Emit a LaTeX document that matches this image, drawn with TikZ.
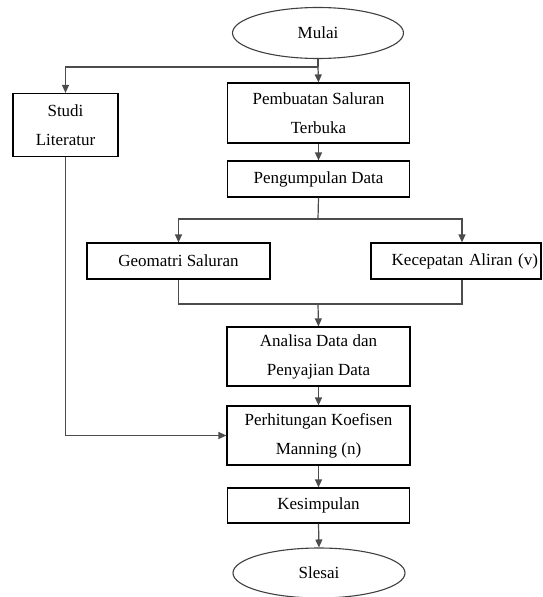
\documentclass[tikz,border=0pt]{standalone}
\usepackage{fontspec}
\setmainfont{Liberation Serif}
\usetikzlibrary{arrows.meta,shapes.geometric,calc}
\begin{document}
\begin{tikzpicture}[x=1pt,y=-1pt,
  box/.style={draw=black,line width=1.2pt,rectangle,align=center,inner sep=0pt,
    font=\fontsize{17}{29}\selectfont},
  oval/.style={draw=black!75,line width=1.1pt,ellipse,inner sep=0pt,
    font=\fontsize{17}{29}\selectfont},
  con/.style={draw=black!70,line width=1.2pt},
  arr/.style={con,-{Triangle[length=8pt,width=7pt]}}]
\useasboundingbox (0,0) rectangle (542,597);
\node[oval,minimum width=171,minimum height=51] (mulai) at (318,33) {Mulai};
\node[box,minimum width=105,minimum height=63] (studi) at (65.5,125) {Studi\\Literatur};
\node[box,minimum width=182,minimum height=60] (pemb) at (318.5,113) {Pembuatan Saluran\\Terbuka};
\node[box,minimum width=182,minimum height=36] (peng) at (318.5,179) {Pengumpulan Data};
\node[box,minimum width=183,minimum height=36] (geo) at (178.5,261) {Geomatri Saluran};
\node[box,minimum width=170,minimum height=36,text width=164,align=right,inner xsep=3pt] (kec) at (456,261) {Kecepatan Aliran (v)};
\node[box,minimum width=183,minimum height=59] (ana) at (318.5,356.5) {Analisa Data dan\\Penyajian Data};
\node[box,minimum width=183,minimum height=59] (perh) at (318.5,435.5) {Perhitungan Koefisen\\Manning (n)};
\node[box,minimum width=182,minimum height=35] (kes) at (318.5,505.5) {Kesimpulan};
\node[oval,minimum width=172,minimum height=50] (sles) at (319,573) {Slesai};
\coordinate (j1) at (318,67);
\coordinate (j2) at (318,219);
\coordinate (j3) at (318,304);
\draw[con] (mulai.south) -- (j1);
\draw[arr] (j1) -- (pemb.north);
\draw[arr] (j1) -| (studi.north);
\draw[arr] (pemb.south) -- (peng.north);
\draw[con] (peng.south) -- (j2);
\draw[arr] (j2) -| (geo.north);
\draw[arr] (j2) -| ([xshift=6pt]kec.north);
\draw[con] (geo.south) |- (j3) -| ([xshift=6pt]kec.south);
\draw[arr] (j3) -- (ana.north);
\draw[arr] (ana.south) -- (perh.north);
\draw[arr] (studi.south) |- (perh.west);
\draw[arr] (perh.south) -- (kes.north);
\draw[arr] (kes.south) -- (sles.north);
\end{tikzpicture}
\end{document}
